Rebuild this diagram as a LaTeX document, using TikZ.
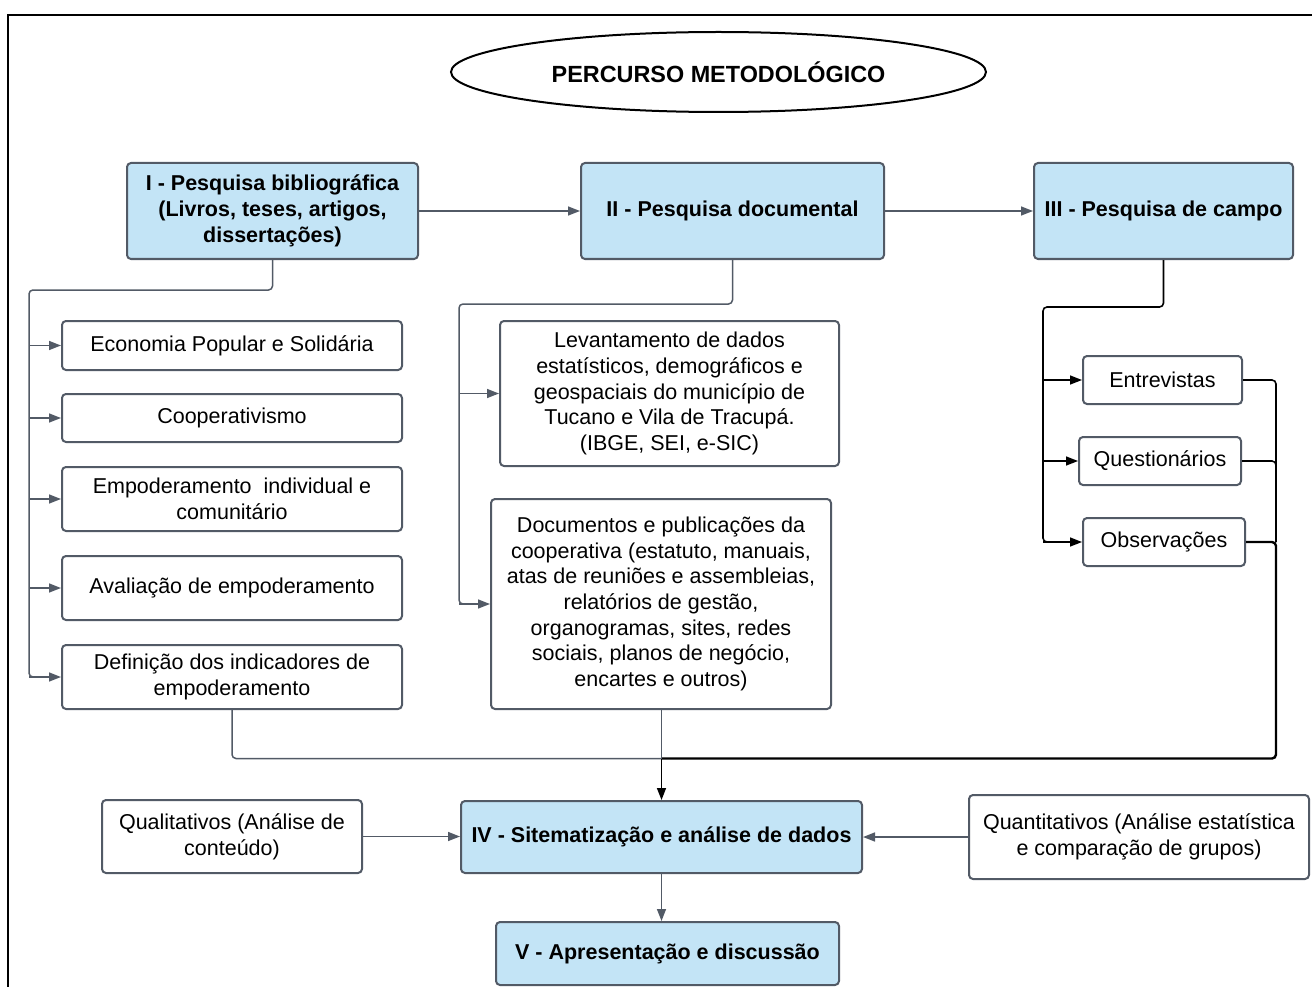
\documentclass[tikz,border=0pt]{standalone}
\usepackage{fontspec}
\setmainfont{Liberation Sans}
\usetikzlibrary{arrows.meta,shapes.geometric}
\definecolor{boxblue}{HTML}{C3E4F6}
\definecolor{edge}{HTML}{525A66}
\tikzset{
  base/.style={draw=edge, line width=2pt, rounded corners=4pt, align=center,
    inner sep=0pt, font=\fontsize{21.5}{25.7}\selectfont},
  plain/.style={base, fill=white},
  stage/.style={base, fill=boxblue, font=\fontsize{21.5}{25.7}\selectfont\bfseries},
  link/.style={draw=edge, line width=1.5pt, rounded corners=4pt},
  conn/.style={link, -{Triangle[length=12pt,width=9pt]}},
  darklink/.style={draw=black, line width=1.6pt, rounded corners=4pt},
  darkconn/.style={darklink, -{Triangle[length=12pt,width=9pt]}},
}
\begin{document}
\begin{tikzpicture}[x=1pt,y=-1pt]
\useasboundingbox (0,0) rectangle (1312,987);
% frame
\draw[line width=2pt] (8,987) -- (8,15) -- (1312,15);

% title
\node[ellipse, draw=black, line width=2pt, minimum width=535pt, minimum height=80pt,
  inner sep=0pt, font=\fontsize{23.4}{28}\selectfont\bfseries] (title) at (718.5,72) {PERCURSO METODOLÓGICO};

% stages
\node[stage, minimum width=291pt, minimum height=96pt] (bib) at (272.5,211)
  {I - Pesquisa bibliográfica\\(Livros, teses, artigos,\\dissertações)};
\node[stage, minimum width=303pt, minimum height=96pt] (doc) at (732.5,211)
  {II - Pesquisa documental};
\node[stage, minimum width=259pt, minimum height=96pt] (campo) at (1163.5,211)
  {III - Pesquisa de campo};

% bibliographic topics
\node[plain, minimum width=340pt, minimum height=49pt] (eco) at (232,345.5) {Economia Popular e Solidária};
\node[plain, minimum width=340pt, minimum height=48pt] (coop) at (232,418) {Cooperativismo};
\node[plain, minimum width=340pt, minimum height=64pt] (emp) at (232,499) {Empoderamento\ \ individual e\\comunitário};
\node[plain, minimum width=340pt, minimum height=64pt] (aval) at (232,588) {Avaliação de empoderamento};
\node[plain, minimum width=340pt, minimum height=64pt] (defi) at (232,677) {Definição dos indicadores de\\empoderamento};

% documentary sources
\node[plain, minimum width=339pt, minimum height=145pt] (lev) at (669.5,393.5)
  {Levantamento de dados\\estatísticos, demográficos e\\geospaciais do município de\\Tucano e Vila de Tracupá.\\(IBGE, SEI, e-SIC)};
\node[plain, minimum width=340pt, minimum height=210pt] (pub) at (661,604)
  {Documentos e publicações da\\cooperativa (estatuto, manuais,\\atas de reuniões e assembleias,\\relatórios de gestão,\\organogramas, sites, redes\\sociais, planos de negócio,\\encartes e outros)};

% field instruments
\node[plain, minimum width=159pt, minimum height=48pt] (ent) at (1162.5,380) {Entrevistas};
\node[plain, minimum width=162pt, minimum height=48pt] (que) at (1160,461) {Questionários};
\node[plain, minimum width=162pt, minimum height=48pt] (obs) at (1164,542) {Observações};

% analysis and presentation
\node[stage, minimum width=401pt, minimum height=72pt] (sis) at (661.5,837) {IV - Sitematização e análise de dados};
\node[plain, minimum width=260pt, minimum height=73pt] (qual) at (232,836.5) {Qualitativos (Análise de\\conteúdo)};
\node[plain, minimum width=340pt, minimum height=84pt] (quant) at (1139,837) {Quantitativos (Análise estatística\\e comparação de grupos)};
\node[stage, minimum width=343pt, minimum height=63pt] (apr) at (667.5,953.5) {V - Apresentação e discussão};

% branch points
\coordinate (trunkL) at (29,290);
\coordinate (trunkM) at (459,304);
\coordinate (trunkR) at (1043,307);
\coordinate (rightR) at (1276,542);
\coordinate (join) at (661.5,758.5);

% top row
\draw[conn] (bib.east) -- (doc.west);
\draw[conn] (doc.east) -- (campo.west);

% I -> topics
\draw[link] (bib.south) |- (trunkL) -- (trunkL |- defi.west) -- ([xshift=-12pt]defi.west);
\foreach \t in {eco,coop,emp,aval,defi}
  \draw[conn] (trunkL |- \t.west) -- (\t.west);

% II -> sources
\draw[link] (doc.south) |- (trunkM) -- (trunkM |- pub.west) -- ([xshift=-12pt]pub.west);
\draw[conn] (trunkM |- lev.west) -- (lev.west);
\draw[conn] (trunkM |- pub.west) -- (pub.west);

% III -> instruments
\draw[darklink] (campo.south) |- (trunkR) -- (trunkR |- obs.west) -- ([xshift=-12pt]obs.west);
\foreach \t in {ent,que,obs}
  \draw[darkconn] (trunkR |- \t.west) -- (\t.west);

% instruments -> IV
\draw[darklink] (ent.east) -| (rightR);
\draw[darklink] (que.east) -| (rightR);
\draw[darklink, line width=2.4pt] (obs.east) -- (rightR) -- (rightR |- join) -- (join);

% topics and sources -> IV
\draw[link] (defi.south) |- (join);
\draw[link] (pub.south -| join) -- (join);
\draw[darkconn] (join) -- (join |- sis.north);

% analysis methods -> IV, IV -> V
\draw[conn] (qual.east) -- (qual.east -| sis.west);
\draw[conn] (quant.west) -- (quant.west -| sis.east);
\draw[conn] (sis.south -| join) -- (join |- apr.north);
\end{tikzpicture}
\end{document}
